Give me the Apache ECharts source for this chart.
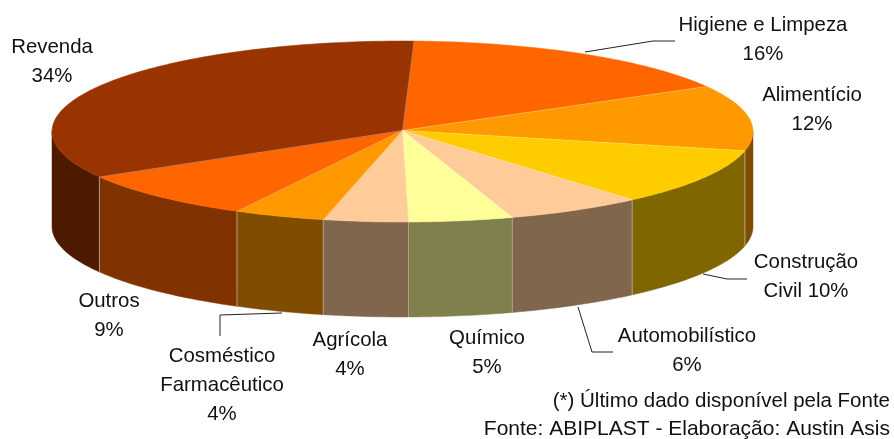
<!DOCTYPE html>
<html>
<head>
<meta charset="utf-8">
<style>html,body{margin:0;padding:0;background:#fff}#chart{width:894px;height:439px}</style>
<script src="https://cdn.jsdelivr.net/npm/echarts@6/dist/echarts.min.js"></script>
</head>
<body>
<div id="chart"></div>
<script>
// clockwise from the top of the pie, shares (labels show them rounded)
var categories = ['Higiene e Limpeza', 'Alimentício', 'Construção\nCivil', 'Automobilístico', 'Químico', 'Agrícola', 'Cosméstico\nFarmacêutico', 'Outros', 'Revenda']
var values = [16.2, 11.7, 10.2, 6.3, 4.8, 3.9, 4.2, 8.8, 33.9]
var topColors = ['#FF6600', '#FF9900', '#FFCC00', '#FFCC99', '#FFFF99', '#FFCC99', '#FF9900', '#FF6600', '#993300']
var wallColors = ['#803300', '#804D00', '#806600', '#80664D', '#80804D', '#80664D', '#804D00', '#803300', '#4D1A00']
var footnotes = ['(*) Último dado disponível pela Fonte', 'Fonte: ABIPLAST - Elaboração: Austin Asis']

// pie geometry
var cx = 402.5, cy = 131.5, rx = 350.5, ry = 90.5, depth = 95, startDeg = 1.9

// label centres, same order as categories; inline puts the % on the last line
var labelPos = [
  {x: 763, y: 40}, {x: 812, y: 110}, {x: 806, y: 277, inline: true}, {x: 687, y: 351}, {x: 487, y: 353},
  {x: 350, y: 355}, {x: 222, y: 385}, {x: 109, y: 316}, {x: 52, y: 62}
]
var footSizes = [20.5, 21]
var leaders = [
  [[585, 52], [653, 41], [675, 41]],
  [[703, 274], [727, 279], [747, 279]],
  [[578, 307], [592, 352], [613, 352]],
  [[220, 336], [220, 315], [282, 313]]
]

function rimPoint(deg, drop) {
  var a = deg * Math.PI / 180
  return [cx + rx * Math.sin(a), cy - ry * Math.cos(a) + (drop || 0)]
}

function arcPoints(from, to, drop) {
  var pts = []
  for (var d = from; d < to; d += 1) pts.push(rimPoint(d, drop))
  pts.push(rimPoint(to, drop))
  return pts
}

var seriesData = []
var acc = 0
values.forEach(function (v, i) {
  seriesData.push({value: [v, acc, i]})
  acc += v
})

function renderSlice(params, api) {
  var from = startDeg + api.value(1) * 3.6
  var to = from + api.value(0) * 3.6
  var i = api.value(2)
  var children = []

  // side wall, only the front half of the rim shows (90..270 deg)
  var wFrom = Math.max(from, 90), wTo = Math.min(to, 270)
  if (wFrom < wTo) {
    var wall = arcPoints(wFrom, wTo, 0).concat(arcPoints(wFrom, wTo, depth).reverse())
    children.push({type: 'polygon', shape: {points: wall}, style: {fill: wallColors[i], stroke: wallColors[i], lineWidth: 0.5}})
  }
  if (from > 90 && from < 270) {
    var a = rimPoint(from, 0), b = rimPoint(from, depth)
    children.push({type: 'line', z2: 2, shape: {x1: a[0], y1: a[1], x2: b[0], y2: b[1]}, style: {stroke: '#B3A08C', lineWidth: 1}})
  }

  var top = [[cx, cy - 1]].concat(arcPoints(from, to, 0))
  children.push({type: 'polygon', z2: 3, shape: {points: top}, style: {fill: topColors[i], stroke: topColors[i], lineWidth: 0.5}})
  var p = rimPoint(from, 0)
  children.push({type: 'line', z2: 4, shape: {x1: cx, y1: cy - 1, x2: p[0], y2: p[1]}, style: {stroke: 'rgba(255,255,255,0.3)', lineWidth: 0.8}})
  return {type: 'group', children: children}
}

var graphics = []
categories.forEach(function (name, i) {
  var pos = labelPos[i]
  graphics.push({
    type: 'text', x: pos.x, y: pos.y,
    style: {
      text: name + (pos.inline ? ' ' : '\n') + Math.round(values[i]) + '%',
      textAlign: 'center', textVerticalAlign: 'middle',
      font: '20.4px "Liberation Sans", Arial, sans-serif', lineHeight: 29, fill: '#111'
    }
  })
})
footnotes.forEach(function (t, i) {
  graphics.push({
    type: 'text', x: 890, y: 401 + i * 28,
    style: {text: t, textAlign: 'right', textVerticalAlign: 'middle', font: footSizes[i] + 'px "Liberation Sans", Arial, sans-serif', fill: '#111'}
  })
})
leaders.forEach(function (pts) {
  graphics.push({type: 'polyline', shape: {points: pts}, style: {stroke: '#222', lineWidth: 1, fill: null}})
})

var myChart = echarts.init(document.getElementById('chart'), null, {renderer: 'canvas'})
myChart.setOption({
  animation: false,
  backgroundColor: '#fff',
  series: [{
    type: 'custom',
    coordinateSystem: 'none',
    silent: true,
    renderItem: renderSlice,
    data: seriesData
  }],
  graphic: graphics
})
</script>
</body>
</html>
